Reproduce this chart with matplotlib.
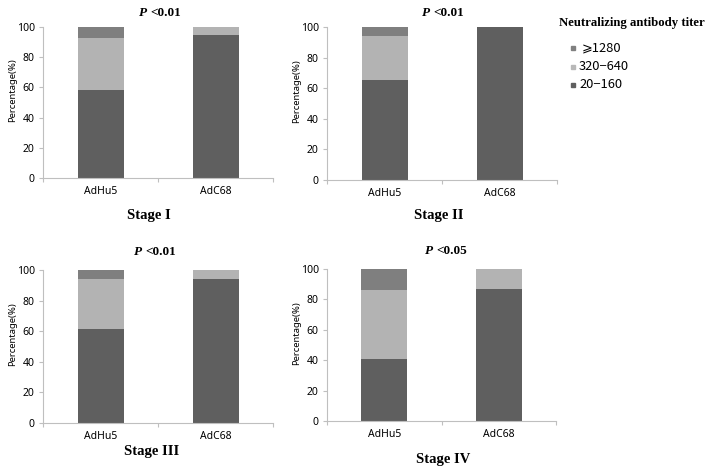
import matplotlib
matplotlib.use("Agg")
import matplotlib.pyplot as plt
from matplotlib.lines import Line2D
import numpy as np

# ---- data ----
stages = ["Stage I", "Stage II", "Stage III", "Stage IV"]
p_values = ["<0.01", "<0.01", "<0.01", "<0.05"]
vectors = ["AdHu5", "AdC68"]
series_names = ["20\u2212160", "320\u2212640", "\u2a7e1280"]
titer_20_160 = [[58.3, 94.7], [65.2, 100.0], [61.4, 93.9], [41.0, 86.6]]
titer_320_640 = [[34.6, 5.3], [29.1, 0.0], [32.5, 6.1], [45.2, 13.4]]
titer_1280 = [[7.1, 0.0], [5.7, 0.0], [6.1, 0.0], [13.8, 0.0]]
yticks = [0, 20, 40, 60, 80, 100]

colors = ["#5f5f5f", "#b3b3b3", "#7f7f7f"]
legend_colors = ["#5f5f5f", "#b8b8b8", "#808080"]

W, H = 708, 476
fig = plt.figure(figsize=(W / 100, H / 100), dpi=100)


def fx(x):
    return x / W


def fy(y):
    return 1 - y / H


# axes boxes in pixels: left, right, top, bottom
boxes = [(43, 273, 27, 178), (327, 557, 27, 180), (43, 273, 270, 422.7), (327, 556, 269, 421)]
title_pos = [(160, 13), (443, 13), (155, 252), (446, 251)]
stage_pos = [(149, 215), (439, 215), (152, 452), (443, 459)]

spine_c = "#bfbfbf"
tick_font = "Noto Sans"

for i, (l, r, t, b) in enumerate(boxes):
    ax = fig.add_axes([fx(l), fy(b), (r - l) / W, (b - t) / H])
    data = [titer_20_160[i], titer_320_640[i], titer_1280[i]]
    x = np.arange(len(vectors)) + 0.5
    bottom = np.zeros(len(vectors))
    for k, vals in enumerate(data):
        vals = np.array(vals)
        ax.bar(x, vals, width=0.4, bottom=bottom, color=colors[k], linewidth=0)
        bottom += vals
    ax.set_xlim(0, len(vectors))
    ax.set_ylim(0, 100)
    ax.set_yticks(yticks)
    ax.set_yticklabels([str(v) for v in yticks], fontsize=7.5, family=tick_font)
    ax.set_xticks(np.arange(len(vectors) + 1))
    ax.set_xticklabels([])
    ax.set_xticks(x, minor=True)
    ax.set_xticklabels(vectors, minor=True, fontsize=7.5, family=tick_font)
    ax.tick_params(axis="x", which="minor", length=0, pad=6)
    ax.tick_params(axis="x", which="major", length=3, color=spine_c, width=0.8)
    ax.tick_params(axis="y", length=3, color=spine_c, width=0.8, pad=3)
    for s in ["top", "right"]:
        ax.spines[s].set_visible(False)
    for s in ["left", "bottom"]:
        ax.spines[s].set_color(spine_c)
        ax.spines[s].set_linewidth(0.8)
    ax.set_ylabel("Percentage(%)", fontsize=6.8, family=tick_font)
    ax.yaxis.set_label_coords(-26 / (r - l), 0.58)

    cx, cy = title_pos[i]
    fig.text(fx(cx - 13), fy(cy), "P", ha="right", va="center", fontsize=9.5,
             family="Liberation Serif", weight="bold", style="italic")
    fig.text(fx(cx - 10), fy(cy), p_values[i], ha="left", va="center", fontsize=9.5,
             family="Liberation Serif", weight="bold")
    sx, sy = stage_pos[i]
    fig.text(fx(sx), fy(sy), stages[i], ha="center", va="center", fontsize=10.5,
             family="Liberation Serif", weight="bold")

# legend (manual)
fig.text(fx(559), fy(23), "Neutralizing antibody titer", ha="left", va="center",
         fontsize=9.2, family="Liberation Serif", weight="bold")
entry_y = [85, 67, 48]
for k, name in enumerate(series_names):
    fig.add_artist(Line2D([fx(573)], [fy(entry_y[k])], marker="s", markersize=3,
                          color=legend_colors[k], linestyle="none",
                          transform=fig.transFigure))
    fig.text(fx(579 if k < 2 else 582), fy(entry_y[k]), name, ha="left", va="center",
             fontsize=9.3, family=["Noto Sans CJK KR", "DejaVu Sans"], weight="medium")

fig.savefig("out.png", dpi=100)
